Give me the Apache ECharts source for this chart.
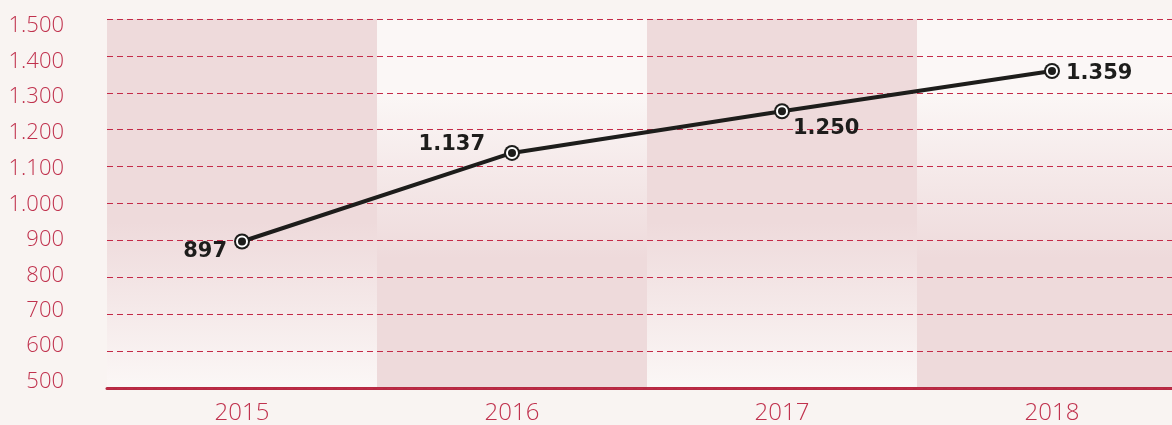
<!DOCTYPE html>
<html>
<head>
<meta charset="utf-8">
<script src="https://cdn.jsdelivr.net/npm/echarts@6/dist/echarts.min.js"></script>
<style>
  html, body { margin: 0; padding: 0; background: #f9f4f2; overflow: hidden; }
  #chart { width: 1190px; height: 425px; }
</style>
</head>
<body>
<div id="chart"></div>
<script>
const years = ['2015', '2016', '2017', '2018'];
const values = [897, 1137, 1250, 1359];
const yMin = 500;
const yMax = 1500;
const yStep = 100;

const crimson = '#c0314d';
const ink = '#1d1d1b';
const pink = '#eedadb';
const pale = '#fbf7f6';

// thousands separator with a dot, like the original
function fmt(v) {
  return String(v).replace(/\B(?=(\d{3})+(?!\d))/g, '.');
}

// label placement per point (style, not data)
const labelPlace = [
  { position: 'left', distance: 7, offset: [0, 10] },
  { position: 'left', distance: 19, offset: [0, -8] },
  { position: 'right', distance: 3, offset: [0, 17] },
  { position: 'right', distance: 6, offset: [0, 3] }
];

// the original's tick labels drift a little off their gridlines
const tickRich = {};
for (let v = yMin; v <= yMax; v += yStep) {
  const shift = Math.round(-6 + 13 * (v - yMin) / (yMax - yMin));
  tickRich['t' + v] = {
    color: crimson, fontSize: 22, fontFamily: 'Open Sans', fontWeight: 300,
    padding: shift >= 0 ? [shift * 2, 0, 0, 0] : [0, 0, -shift * 2, 0]
  };
}

const bandDown = new echarts.graphic.LinearGradient(0, 0, 0, 1, [
  { offset: 0, color: pink },
  { offset: 0.55, color: pink },
  { offset: 1, color: pale }
]);
const bandUp = new echarts.graphic.LinearGradient(0, 0, 0, 1, [
  { offset: 0, color: pale },
  { offset: 0.2, color: pale },
  { offset: 0.65, color: pink },
  { offset: 1, color: pink }
]);

const chart = echarts.init(document.getElementById('chart'));
chart.setOption({
  backgroundColor: '#f9f4f2',
  animation: false,
  grid: { left: 107, right: 3, top: 19, bottom: 36 },
  xAxis: {
    type: 'category',
    data: years,
    boundaryGap: true,
    z: 0,
    axisLine: { show: true, lineStyle: { color: '#b52a42', width: 3 } },
    axisTick: { show: false },
    axisLabel: {
      color: crimson, fontSize: 24, fontFamily: 'Open Sans', fontWeight: 300, margin: 13
    },
    splitArea: { show: true, areaStyle: { color: [bandDown, bandUp] } }
  },
  yAxis: {
    type: 'value',
    min: yMin,
    max: yMax,
    interval: yStep,
    z: 1,
    axisLine: { show: false },
    axisTick: { show: false },
    axisLabel: {
      margin: 43,
      formatter: v => '{t' + v + '|' + fmt(v) + '}',
      rich: tickRich
    },
    splitLine: {
      show: true,
      lineStyle: { color: '#c42a48', width: 1, type: [6, 4] }
    }
  },
  series: [
    {
      type: 'line',
      data: values.map((v, i) => ({
        value: v,
        label: Object.assign({ show: true }, labelPlace[i])
      })),
      symbol: 'circle',
      symbolSize: 16,
      itemStyle: { color: ink },
      lineStyle: { color: ink, width: 4 },
      label: {
        color: ink, fontSize: 21, fontWeight: 'bold', fontFamily: 'DejaVu Sans',
        formatter: p => fmt(p.value)
      },
      z: 3
    },
    {
      type: 'line',
      data: values,
      symbol: 'circle',
      symbolSize: 10,
      itemStyle: { color: ink, borderColor: '#ffffff', borderWidth: 2 },
      lineStyle: { width: 0 },
      z: 4
    }
  ]
});
</script>
</body>
</html>
